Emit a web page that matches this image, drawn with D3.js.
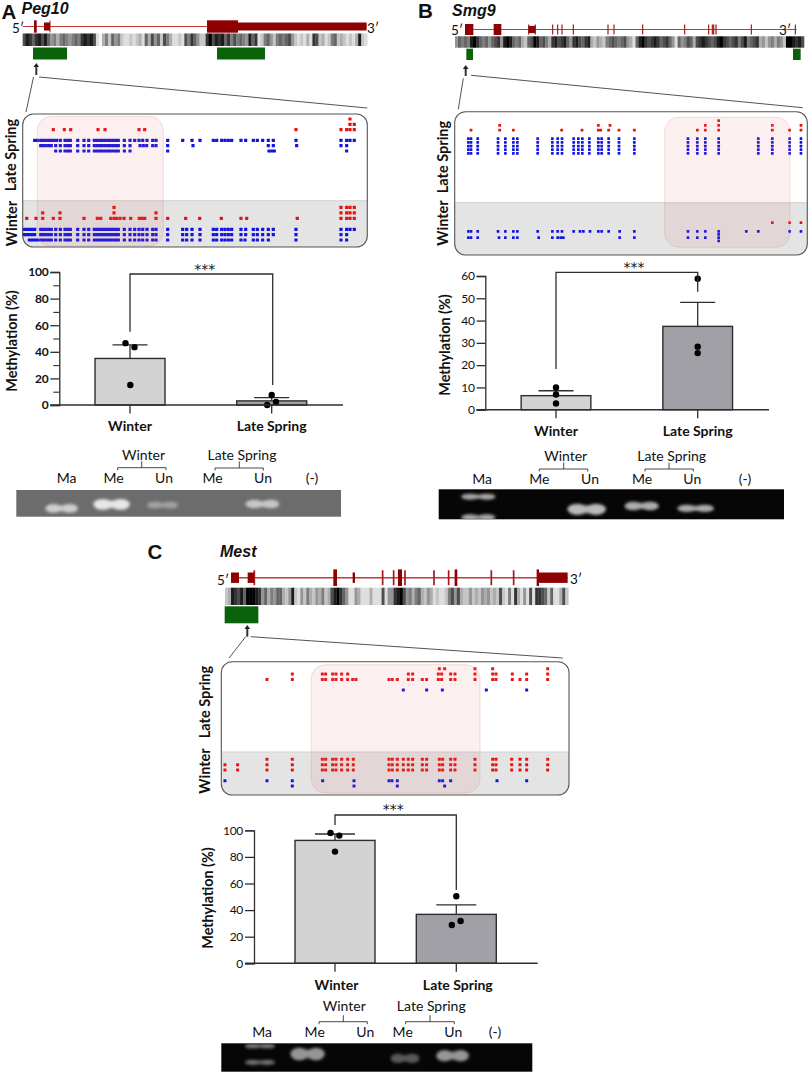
<!DOCTYPE html>
<html><head><meta charset="utf-8">
<script src="https://cdn.jsdelivr.net/npm/d3@7"></script>
<style>html,body{margin:0;padding:0;background:#fff}svg{display:block}text{font-family:Lato,sans-serif;fill:#111}</style>
</head><body><svg id="fig" width="809" height="1073"></svg>
<script>
// ---------- bar chart data ----------
const categories = ["Winter", "Late Spring"];
const pegMeans = [35, 3.1];
const pegErrors = [10.2, 2.4];
const pegPoints = [[46.5, 43.5, 15], [7.5, 2.3, 0]];
const smgMeans = [6.3, 37.4];
const smgErrors = [2.2, 10.8];
const smgPoints = [[10, 6.8, 2.8], [58.8, 28.3, 25.4]];
const mestMeans = [92.4, 36.8];
const mestErrors = [4.8, 7.1];
const mestPoints = [[98, 96, 84], [50.4, 31.8, 28.8]];
const pegTicks = [0, 20, 40, 60, 80, 100];
const smgTicks = [0, 10, 20, 30, 40, 50, 60];
const mestTicks = [0, 20, 40, 60, 80, 100];

// ---------- gene models (positions along each gene) ----------
const pegTall = [[102,110],[621,714]];
const pegMid = [[132,150],[714,1100]];
const pegThin = [150];
const pegGreen = [[99,201],[651,795]];
const smgTall = [[45,70],[131,154]];
const smgMid = [[236,256]];
const smgThin = [236,256,308,323,336,370,474,492,578,704,776,787,791,798,904,1036];
const smgGreen = [[49,69],[1029,1052]];
const mestTall = [[340,351],[534,546],[704,712],[950,957]];
const mestMid = [[33,57],[83,102],[398,405],[957,1043]];
const mestThin = [103,488,521,555,642,686,814,881];
const mestGreen = [[14,115]];

// ---------- CpG density strips (darkness per bin, 0 to 10) ----------
const pegDensity = [7,9,8,6,8,9,7,9,6,4,5,3,5,6,5,4,5,6,5,8,9,8,9,7,1,0,3,5,2,6,4,5,2,1,1,2,1,2,3,1,6,3,7,4,6,2,7,5,3,1,1,2,1,7,5,8,6,4,2,
  2,8,10,7,9,8,9,6,8,5,7,5,6,5,4,9,6,8,1,2,5,6,4,2,5,6,5,6,7,4,2,1,2,1,3,1,8,7,2,3,1,2,5,6,2,3,2,1,2,1,3,9,2,1];
const smgDensity = [4,6,5,6,5,9,10,8,6,5,6,4,6,7,8,4,9,10,9,6,5,6,3,2,6,7,10,9,6,7,5,3,8,9,7,8,9,6,4,8,9,7,6,8,9,3,2,4,3,2,5,6,7,6,5,6,7,4,3,1,6,9,10,8,7,8,9,8,6,7,8,6,4,1,6,4,5,7,6,3,7,8,9,8,7,6,7,9,10,8,7,6,7,8,5,7,9,5,6,7,8,3,4,2,4,5,3,5,4,2,10,10,9,8,9,7];
const mestDensity = [2,3,9,8,7,9,6,10,10,10,9,8,4,6,3,5,4,6,6,3,2,4,9,2,1,4,2,5,3,2,4,3,5,2,3,7,9,10,8,6,4,1,1,4,3,1,1,1,3,1,1,1,7,1,4,4,8,9,10,7,4,5,3,5,6,3,2,4,3,1,2,1,1,2,5,7,4,7,3,2,2,4,2,3,2,4,3,4,2,3,2,7,2,1,5,1,8,3,1,4,1,7,1,8,8,7,6,2,6,1,1,3,7,2];

// ---------- methylation maps: CpG positions per clone row ----------
const pegCore = [283,291,299,307,315,323,331,339,347,355];
const pegLateRed = [[1050],[1050,1063],[160,193,212,294,315,417,434,888,1023,1040,1050,1063]];
const pegLateBlue = [
  [104,112,122,130,138,146,154,162,170,181,195,203,211,233,252,266,...pegCore,373,390,404,417,428,441,458,468,503,548,576,600,640,650,665,675,685,695,723,737,760,772,788,805,820,888,1023,1040,1050,1063],
  [122,130,138,146,154,167,181,195,203,211,233,252,266,...pegCore,373,390,420,430,440,458,468,503,579,805,820,890,1023,1040],
  [167,181,195,203,211,233,252,266,...pegCore,373,390,503,807,815,823,1040]];
const pegWinterRed = [[342,1023,1040,1050,1063],[128,180,342,468,1023,1040,1050,1063],
  [80,108,128,160,180,252,292,302,332,342,350,360,372,392,418,426,434,468,503,557,599,664,723,740,892,1023,1040,1050,1063]];
const pegWinterBlue = [
  [72,80,88,96,104,122,130,138,146,154,167,181,195,203,211,233,252,266,...pegCore,373,390,404,417,428,441,458,468,503,548,560,576,600,640,650,665,675,685,695,723,737,760,772,788,805,820,888,1023,1040,1050,1063],
  [72,80,88,96,104,122,130,138,146,154,167,181,195,203,211,233,252,266,...pegCore,373,390,404,417,428,441,458,468,503,548,560,576,600,640,650,665,675,685,695,723,737,760,772,788,805,820,888,1023,1040],
  [88,96,104,112,122,130,138,146,154,167,181,195,203,211,233,252,266,...pegCore,373,390,404,417,428,441,458,468,503,548,560,576,600,640,650,665,675,685,695,723,735,760,772,788,805,888,1023,1040]];

const smgAllLate = [175,183,203,264,286,310,322,383,427,443,456,491,505,517,538,565,575,596,627,673,834,862,886,926,1045,1087,1139,1173];
const smgLateRed = [[926],[269,565,600,886,926,1087,1173],[183,269,310,455,516,565,572,596,627,673,862,886,926,1087,1139,1173]];
const smgLateBlue = [smgAllLate, smgAllLate, smgAllLate, smgAllLate, smgAllLate];
const smgWinterRed = [[1087,1139,1173]];
const smgWinterBlue = [
  [175,183,203,264,286,310,322,383,427,443,456,491,510,520,540,565,575,596,629,673,834,862,886,926,1009,1045,1139,1173],
  [926],
  [175,183,203,267,286,310,322,386,427,443,452,460,629,673,834,862,886,926],
  [926]];

const mestLateRed = [[748,764,855,908,1073],
  [307,397,407,428,438,455,473,655,668,745,755,782,795,855,908,918,967,1010,1073],
  [231,307,397,407,428,438,455,473,488,498,597,607,622,655,668,697,710,745,755,782,795,855,908,918,967,990,1010,1073]];
const mestLateBlue = [[640,710,757,889,1010]];
const mestWinterRed = [
  [231,307,397,407,428,438,455,473,490,597,607,622,640,655,668,697,710,748,758,782,795,855,908,918,965,990,1010,1073],
  [105,143,231,307,397,407,428,438,455,473,490,597,607,622,640,655,668,697,710,748,758,782,795,855,908,918,965,990,1010,1073],
  [105,143,231,307,397,407,428,438,455,473,490,597,607,622,640,655,668,697,710,748,758,782,795,855,908,918,965,990,1010,1073]];
const mestWinterBlue = [[105,231,307,398,492,597,606,622,748,758,782,921,1010],[307,492,622,764]];

// ---------- gels: [lane centre, migration, band width, brightness, band thickness] ----------
const gelLanes = ["Ma", "Me", "Un", "Me", "Un", "(-)"];
const pegBands = [[185,745,100,.75,26],[335,733,112,.95,32],[488,735,96,.42,20],[787,732,104,.7,26]];
const smgBands = [[205,710,105,.7,18],[205,772,105,.7,18],[530,748,118,.78,34],[695,738,105,.72,26],[857,745,112,.72,22]];
const mestBands = [[240,738,92,.5,14],[240,787,92,.45,16],[383,762,105,.62,38],[675,775,88,.36,28],[818,767,100,.62,34]];

const svg = d3.select("#fig");
const defs = svg.append("defs");
defs.append("filter").attr("id","soft").append("feGaussianBlur").attr("stdDeviation",.45);
defs.append("filter").attr("id","band").attr("x","-30%").attr("y","-60%").attr("width","160%").attr("height","220%")
  .append("feGaussianBlur").attr("stdDeviation",1.4);

function txt(s,x,y,size,o={}){
  const t = svg.append("text").text(s).attr("font-size",size).attr("text-anchor",o.anchor||"middle")
    .attr("font-weight",o.bold?700:400).attr("font-style",o.italic?"italic":"normal");
  if(o.family) t.style("font-family",o.family);
  if(o.ls) t.attr("letter-spacing",o.ls);
  if(o.rot) t.attr("transform",`translate(${x},${y}) rotate(${o.rot})`); else t.attr("x",x).attr("y",y);
  return t;
}

function drawGene(c){
  const g = svg.append("g");
  const x = d3.scaleLinear().domain(c.dom).range(c.rng);
  g.append("line").attr("x1",x(c.lineFrom)).attr("x2",x(c.lineTo)).attr("y1",c.y).attr("y2",c.y).attr("stroke","#c9363a").attr("stroke-width",c.lineW);
  g.selectAll(".t").data(c.thin).join("line").attr("x1",d=>x(d)).attr("x2",d=>x(d)).attr("y1",c.y-c.thinH).attr("y2",c.y+c.thinH).attr("stroke","#a51a1e").attr("stroke-width",c.thinW);
  const ex=(arr,h)=>g.selectAll(null).data(arr).join("rect").attr("x",d=>x(d[0])).attr("width",d=>x(d[1])-x(d[0])).attr("y",c.y-h).attr("height",2*h).attr("fill","#8f0000");
  ex(c.tall,c.tallH); ex(c.mid,c.midH);
  const s = d3.scaleLinear().domain(c.sDom).range(c.sRng);
  const n = c.density.length, step=(c.sDom[1]-c.sDom[0])/n;
  const strip = svg.append("g").attr("filter","url(#soft)");
  strip.selectAll("rect").data(c.density).join("rect").attr("x",(d,i)=>s(c.sDom[0]+i*step)).attr("width",s(c.sDom[0]+step)-s(c.sDom[0])+.3)
    .attr("y",c.stripY[0]).attr("height",c.stripY[1]-c.stripY[0]).attr("fill",d=>d3.rgb(245-24*d,245-24*d,245-24*d));
  g.selectAll(null).data(c.green).join("rect").attr("x",d=>s(d[0])).attr("width",d=>s(d[1])-s(d[0])).attr("y",c.greenY[0]).attr("height",c.greenY[1]-c.greenY[0]).attr("fill","#0a620a");
  const ax=c.arrow[0], ay0=c.arrow[1], ay1=c.arrow[2];
  g.append("line").attr("x1",ax).attr("x2",ax).attr("y1",ay0+3).attr("y2",ay1).attr("stroke","#333").attr("stroke-width",2);
  g.append("path").attr("d",`M${ax-2.8},${ay0+4}L${ax},${ay0}L${ax+2.8},${ay0+4}Z`).attr("fill","#222");
  c.zoom.forEach(z=>g.append("line").attr("x1",z[0]).attr("y1",z[1]).attr("x2",z[2]).attr("y2",z[3]).attr("stroke","#555").attr("stroke-width",1));
  txt("5′",c.l5[0],c.l5[1],13.5); txt("3′",c.l3[0],c.l3[1],13.5);
}

function drawMap(c){
  const g = svg.append("g");
  const [bx0,by0,bx1,by1]=c.box, r=c.boxR;
  const clip = "clip"+c.id;
  defs.append("clipPath").attr("id",clip).append("rect").attr("x",bx0).attr("y",by0).attr("width",bx1-bx0).attr("height",by1-by0).attr("rx",r);
  g.append("rect").attr("x",bx0).attr("y",c.split).attr("width",bx1-bx0).attr("height",by1-c.split).attr("fill","#e4e4e4").attr("clip-path",`url(#${clip})`);
  g.append("line").attr("x1",bx0).attr("x2",bx1).attr("y1",c.split).attr("y2",c.split).attr("stroke","#d0d0d0");
  const x = d3.scaleLinear().domain(c.dom).range([bx0,bx1]);
  const S=c.dot;
  c.groups.forEach(gr=>{
    const y = d3.scaleLinear().domain([0,1]).range([gr.y0,gr.y0+gr.step]);
    gr.rows.forEach((row,i)=>{
      g.selectAll(null).data(row).join("rect").attr("x",d=>x(d)-S/2).attr("y",y(i)-S/2).attr("width",S).attr("height",S).attr("rx",.5).attr("fill",gr.color);
    });
  });
  g.append("rect").attr("x",c.pink[0]).attr("y",c.pink[1]).attr("width",c.pink[2]-c.pink[0]).attr("height",c.pink[3]-c.pink[1]).attr("rx",14)
    .attr("fill","rgba(214,110,100,.1)").attr("stroke","rgba(214,130,120,.25)").attr("stroke-width",1);
  g.append("rect").attr("x",bx0).attr("y",by0).attr("width",bx1-bx0).attr("height",by1-by0).attr("rx",r).attr("fill","none").attr("stroke","#555").attr("stroke-width",1.1);
  txt("Late Spring",c.lab[0],c.lab[1],14.5,{bold:true,rot:-90});
  txt("Winter",c.lab[2],c.lab[3],14.5,{bold:true,rot:-90});
}

function drawChart(c){
  const g = svg.append("g");
  const y = d3.scaleLinear().domain(c.yDom).range(c.yRng);
  const x = d3.scalePoint().domain(categories).range(c.centers);
  const BW=c.barW, CW=c.capW;
  const row = categories.map((k,i)=>({k,m:c.means[i],e:c.errors[i],p:c.points[i],j:c.jitter[i],f:["#d3d3d3","#a0a0a6"][i]}));
  g.selectAll(".b").data(row).join("rect").attr("x",d=>x(d.k)-BW/2).attr("width",BW).attr("y",d=>y(d.m)).attr("height",d=>y(0)-y(d.m))
    .attr("fill",d=>d.f).attr("stroke","#2e2e2e").attr("stroke-width",1.4);
  g.selectAll(".v").data(row).join("line").attr("x1",d=>x(d.k)).attr("x2",d=>x(d.k)).attr("y1",d=>y(d.m)).attr("y2",d=>y(d.m+d.e)).attr("stroke","#2e2e2e").attr("stroke-width",1.3);
  g.selectAll(".c").data(row).join("line").attr("x1",d=>x(d.k)-CW/2).attr("x2",d=>x(d.k)+CW/2).attr("y1",d=>y(d.m+d.e)).attr("y2",d=>y(d.m+d.e)).attr("stroke","#2e2e2e").attr("stroke-width",1.3);
  g.selectAll(".xt").data(categories).join("line").attr("x1",d=>x(d)).attr("x2",d=>x(d)).attr("y1",y(0)).attr("y2",y(0)+8.5).attr("stroke","#2e2e2e").attr("stroke-width",1.3);
  row.forEach(d=>g.selectAll(null).data(d.p).join("circle").attr("cx",(v,i)=>x(d.k)+d.j[i]).attr("cy",v=>y(v)).attr("r",3.2).attr("fill","#000"));
  const ax = g.append("g").attr("transform",`translate(${c.axisX},0)`).call(d3.axisLeft(y).tickValues(c.ticks).tickSize(c.tick).tickPadding(2).tickFormat(d3.format("d")));
  ax.select(".domain").attr("stroke","#2e2e2e").attr("stroke-width",1.3);
  ax.selectAll(".tick line").attr("stroke","#2e2e2e").attr("stroke-width",1.3);
  ax.selectAll("text").attr("font-size",c.tickSize).attr("font-weight",c.tickBold?700:400).attr("letter-spacing",-.3).style("font-family","Lato,sans-serif").attr("fill","#222");
  if(c.minor){
    const mn=g.append("g").attr("transform",`translate(${c.axisX},0)`).call(d3.axisLeft(y).tickValues(c.minor).tickSize(6).tickFormat(""));
    mn.select(".domain").remove(); mn.selectAll(".tick line").attr("stroke","#2e2e2e").attr("stroke-width",1.1);
  }
  g.append("line").attr("x1",c.axisX-c.tick).attr("x2",c.xEnd).attr("y1",y(0)).attr("y2",y(0)).attr("stroke","#2e2e2e").attr("stroke-width",1.4);
  const [bxa,bxb]=c.centers;
  g.append("path").attr("d",d3.line()([[bxa,c.br[0]],[bxa,c.br[1]],[bxb+c.brShift,c.br[1]],[bxb+c.brShift,c.br[2]]])).attr("fill","none").attr("stroke","#2e2e2e").attr("stroke-width",1.3);
  txt("***",c.star[0],c.star[1],14,{family:"DejaVu Sans"});
  txt("Methylation (%)",c.yLab[0],c.yLab[1],14.4,{bold:true,rot:-90});
  categories.forEach(k=>txt(k,x(k)+(c.catShift||0),c.catY,14,{bold:true}));
}

function drawGel(c){
  const [x0,y0,x1,y1]=c.box;
  const id="gel"+c.id;
  defs.append("clipPath").attr("id",id).append("rect").attr("x",x0).attr("y",y0).attr("width",x1-x0).attr("height",y1-y0);
  svg.append("rect").attr("x",x0).attr("y",y0).attr("width",x1-x0).attr("height",y1-y0).attr("fill",c.bg);
  const X=d3.scaleLinear().domain(c.xDom).range([x0,x1]), Y=d3.scaleLinear().domain(c.yDom).range([y0,y1]);
  const g=svg.append("g").attr("clip-path",`url(#${id})`).append("g").attr("filter","url(#band)");
  const col=d3.scaleLinear().domain([0,1]).range([c.bg,"#ededed"]);
  c.bands.forEach(b=>{
    const cx=X(b[0]), cy=Y(b[1]), w=X(b[0]+b[2])-cx, h=Y(c.yDom[0]+b[4])-y0;
    g.append("rect").attr("x",cx-w/2+3).attr("width",w-6).attr("y",cy-h*.36).attr("height",h*.72).attr("rx",3).attr("fill",col(b[3]*.8));
    [-.24,.24].forEach(o=>g.append("ellipse").attr("cx",cx+o*w).attr("cy",cy).attr("rx",w*.25).attr("ry",h*.5).attr("fill",col(b[3])));
  });
  gelLanes.forEach((l,i)=>txt(l,c.laneX[i],c.laneY,14));
  c.br.forEach(b=>{
    svg.append("path").attr("d",d3.line()([[b[0],b[2]+2.5],[b[0],b[2]],[b[1],b[2]],[b[1],b[2]+2.5]])).attr("fill","none").attr("stroke","#333").attr("stroke-width",.9);
    svg.append("line").attr("x1",b[3]).attr("x2",b[3]).attr("y1",b[2]).attr("y2",b[2]-6.5).attr("stroke","#333").attr("stroke-width",.9);
  });
  txt("Winter",c.titles[0],c.titles[2],14); txt("Late Spring",c.titles[1],c.titles[2],14);
}

// ---------- panel A ----------
txt("A",1.5,18.5,20.5,{anchor:"start",bold:true,family:"Liberation Sans"});
txt("Peg10",21.5,14,16,{anchor:"start",bold:true,italic:true,family:"Liberation Sans"});
drawGene({dom:[68,1102],rng:[22.7,367.3],lineFrom:68,lineTo:1100,y:26.5,lineW:1.1,tall:pegTall,tallH:6.2,mid:pegMid,midH:4,thin:pegThin,thinH:6,thinW:1,
  density:pegDensity,sDom:[68,1102],sRng:[22.7,367.3],stripY:[33.5,46],green:pegGreen,greenY:[47.5,59.5],arrow:[36.3,63,75],
  zoom:[[33.5,77,26,112],[39,77,367.3,108]],l5:[18,33],l3:[373,33]});
drawMap({id:"a",box:[22.7,114,367.3,247],boxR:11,split:200.7,dom:[68,1102],dot:3.2,pink:[37.3,116.3,163.3,246],lab:[16,155,16.5,223.5],groups:[
  {rows:pegLateRed,color:"#e81212",y0:119,step:5.35},{rows:pegLateBlue,color:"#1414e0",y0:140.3,step:5.35},
  {rows:pegWinterRed,color:"#e81212",y0:207.3,step:5.5},{rows:pegWinterBlue,color:"#1414e0",y0:229.3,step:5.35}]});
drawChart({yDom:[0,100],yRng:[405,272],centers:[130,271.7],barW:70,capW:35,means:pegMeans,errors:pegErrors,points:pegPoints,
  jitter:[[-4.5,4.5,.3],[0,4.3,-4.5]],axisX:59.3,xEnd:343,ticks:pegTicks,minor:[10,30,50,70,90],tick:9,tickSize:12,tickBold:true,
  br:[331.7,274,385],brShift:1,star:[204.7,273.7],yLab:[17,341],catY:431});
drawGel({id:"a",box:[16.3,490,341,516.7],bg:"#6c6c6c",xDom:[49,1023],yDom:[690,770],bands:pegBands,laneX:[66.5,113.5,164,212.5,263,312],laneY:483,
  br:[[117.7,166,467.7,141.7],[215,263.3,468,239.3]],titles:[143.5,242,460]});

// ---------- panel B ----------
txt("B",418,18,20.5,{anchor:"start",bold:true,family:"Liberation Sans"});
txt("Smg9",452,16,16,{anchor:"start",bold:true,italic:true,family:"Liberation Sans"});
drawGene({dom:[15,1062],rng:[455,804],lineFrom:45,lineTo:1040,y:29.5,lineW:1.1,tall:smgTall,tallH:5.5,mid:smgMid,midH:3.6,thin:smgThin,thinH:5,thinW:1.2,
  density:smgDensity,sDom:[15,1062],sRng:[455,804],stripY:[36.3,47.7],green:smgGreen,greenY:[48.7,60],arrow:[465.7,65,76],
  zoom:[[463.3,78.3,458.3,109.3],[471,75.3,802.7,107.7]],l5:[457,35],l3:[785,35]});
drawMap({id:"b",box:[454.7,111.7,807.3,255],boxR:11,split:202.7,dom:[134,1192],dot:2.7,pink:[664.7,117.3,790,247.3],lab:[448,157,448,223],groups:[
  {rows:smgLateRed,color:"#e81212",y0:120.7,step:4.67},{rows:smgLateBlue,color:"#1414e0",y0:138.7,step:3.67},
  {rows:smgWinterRed,color:"#e81212",y0:222.7,step:5},{rows:smgWinterBlue,color:"#1414e0",y0:231.3,step:3.17}]});
drawChart({yDom:[0,60],yRng:[409.7,276],centers:[556,697.7],barW:69.7,capW:35,means:smgMeans,errors:smgErrors,points:smgPoints,
  jitter:[[0,0,0],[0,0,0]],axisX:485.3,xEnd:769,ticks:smgTicks,tick:8.7,tickSize:12,
  br:[369,272.3,291.7],brShift:0,star:[634,272.4],yLab:[450,345],catY:436});
drawGel({id:"b",box:[438.7,489.3,784,519.3],bg:"#060606",xDom:[86,1122],yDom:[688,778],bands:smgBands,laneX:[482,539.3,590,642,692.3,745],laneY:484,
  br:[[539.3,587.7,469,563.7],[645,693.3,469,669]],titles:[565.7,671.7,461]});

// ---------- panel C ----------
txt("C",147.5,559,20.5,{anchor:"start",bold:true,family:"Liberation Sans"});
txt("Mest",220,556.5,16,{anchor:"start",bold:true,italic:true,family:"Liberation Sans"});
drawGene({dom:[15,1045],rng:[225,568.3],lineFrom:33,lineTo:1043,y:577.7,lineW:1.4,tall:mestTall,tallH:8.3,mid:mestMid,midH:5.2,thin:mestThin,thinH:7.5,thinW:1.7,
  density:mestDensity,sDom:[15,1045],sRng:[225,568.3],stripY:[587.7,605],green:mestGreen,greenY:[606.3,623.3],arrow:[247.3,625,636.7],
  zoom:[[245.7,636.7,229,658],[250.7,636.7,562.7,658]],l5:[223,585],l3:[576,584]});
drawMap({id:"c",box:[221.3,661.7,569,795],boxR:11,split:752,dom:[94,1137],dot:3,pink:[311.3,664.7,480,793],lab:[210,702,210,771],groups:[
  {rows:mestLateRed,color:"#e81212",y0:668.7,step:5.35},{rows:mestLateBlue,color:"#1414e0",y0:690,step:5.35},
  {rows:mestWinterRed,color:"#e81212",y0:759.3,step:5.35},{rows:mestWinterBlue,color:"#1414e0",y0:780.7,step:5.35}]});
drawChart({yDom:[0,100],yRng:[963.3,830.3],centers:[335,456.3],barW:80,capW:40,means:mestMeans,errors:mestErrors,points:mestPoints,
  jitter:[[-4.5,4.3,0],[0,4.3,-4.5]],axisX:254,xEnd:537.7,ticks:mestTicks,tick:9,tickSize:12,
  br:[825,815,890],brShift:0,star:[393.3,813.7],yLab:[213,898],catY:989.5,catShift:1.5});
drawGel({id:"c",box:[221.3,1043.3,532.3,1071.7],bg:"#060606",xDom:[124,1057],yDom:[730,815],bands:mestBands,laneX:[262,314.7,365.3,402.7,453.3,495],laneY:1037,
  br:[[319,367.3,1021.7,343.3],[405.7,454.3,1021.7,430]],titles:[344.3,431.3,1011]});
</script></body></html>
